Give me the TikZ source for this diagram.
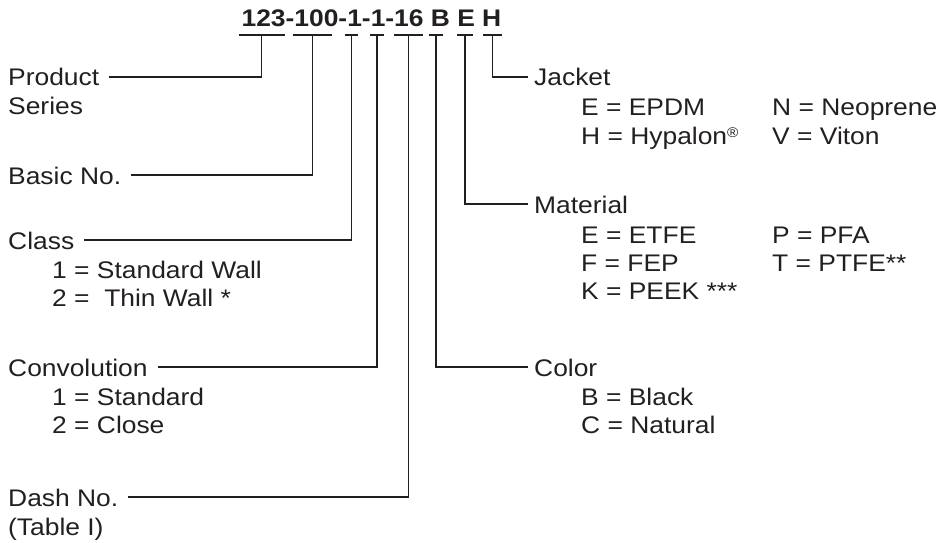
\documentclass[tikz,border=0pt]{standalone}
\usepackage{fontspec}
\setmainfont{Liberation Sans}[FakeStretch=1.1]
\usepackage{tikz}
\definecolor{ink}{RGB}{35,31,32}

\tikzset{
  lbl/.style={inner sep=0pt, anchor=west, text height=18pt, text depth=0pt, text=ink},
  lead/.style={draw=ink, line width=1.9pt},
}
\newcommand{\regmark}{\raisebox{6.5pt}{\fontsize{14}{14}\selectfont\textregistered}}

\begin{document}
\begin{tikzpicture}[x=1pt,y=1pt,font=\fontsize{24}{28}\selectfont]
  \useasboundingbox (0,0) rectangle (942,542);
  % part number and the bars under its fields
  \node[lbl,anchor=center,font=\fontsize{24}{28}\selectfont\bfseries] (pn) at (371.5,524) {123-100-1-1-16 B E H};
  \foreach \n/\x/\w in {1/261.5/23,2/312.5/19.5,3/351.5/6.5,4/377/7,5/408.5/14.5,6/436/7,7/465/8,8/492.5/9.5}{
    \coordinate (c\n) at (\x,507);
    \draw[lead] ([xshift=-\w pt]c\n) -- ([xshift=\w pt]c\n);
  }

  % left hand fields
  \node[lbl] (prod) at (8,465) {Product};
  \node[lbl] (ser) at (8,436) {Series};
  \node[lbl] (basic) at (8,367) {Basic No.};
  \node[lbl] (class) at (8,302) {Class};
  \node[lbl] (cl1) at (52,273) {1 = Standard Wall};
  \node[lbl] (cl2) at (52,245) {2 = \ Thin Wall *};
  \node[lbl] (conv) at (8,175) {Convolution};
  \node[lbl] (cv1) at (52,146) {1 = Standard};
  \node[lbl] (cv2) at (52,118) {2 = Close};
  \node[lbl] (dash) at (8,45) {Dash No.};
  \node[lbl] (tab) at (8,16) {(Table I)};

  % right hand fields
  \node[lbl] (jack) at (534,465) {Jacket};
  \node[lbl] (jE) at (581,435) {E = EPDM};
  \node[lbl] (jH) at (581,407) {H = Hypalon\regmark};
  \node[lbl] (jN) at (772,435) {N = Neoprene};
  \node[lbl] (jV) at (772,407) {V = Viton};
  \node[lbl] (mat) at (534,338) {Material};
  \node[lbl] (mE) at (581,308) {E = ETFE};
  \node[lbl] (mF) at (581,280) {F = FEP};
  \node[lbl] (mK) at (581,252) {K = PEEK ***};
  \node[lbl] (mP) at (772,308) {P = PFA};
  \node[lbl] (mT) at (772,280) {T = PTFE**};
  \node[lbl] (col) at (534,175) {Color};
  \node[lbl] (cB) at (581,146) {B = Black};
  \node[lbl] (cC) at (581,118) {C = Natural};

  % leads
  \draw[lead] ([xshift=10pt]prod.east) -| (c1);
  \draw[lead] ([xshift=10pt]basic.east) -| (c2);
  \draw[lead] ([xshift=10pt]class.east) -| (c3);
  \draw[lead] ([xshift=10pt]conv.east) -| (c4);
  \draw[lead] ([xshift=10pt]dash.east) -| (c5);
  \draw[lead] (c6) |- ([xshift=-6pt]col.west);
  \draw[lead] (c7) |- ([xshift=-6pt]mat.west);
  \draw[lead] (c8) |- ([xshift=-6pt]jack.west);
\end{tikzpicture}
\end{document}
